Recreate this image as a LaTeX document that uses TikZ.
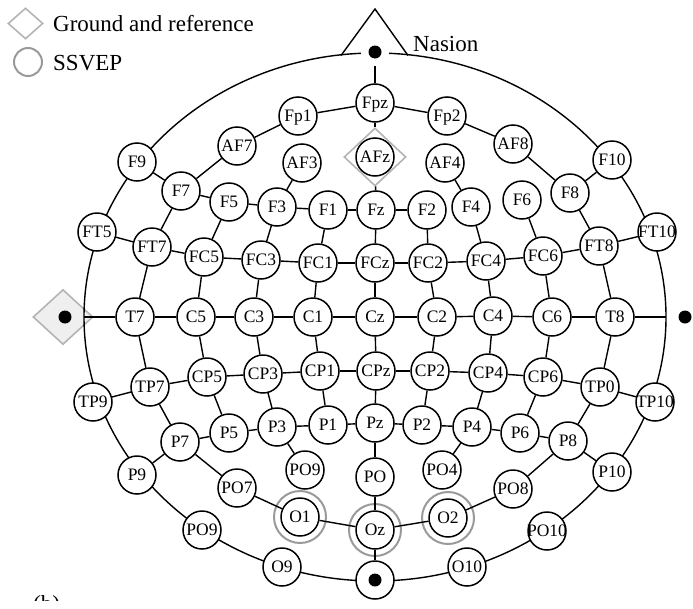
\documentclass[tikz,border=0pt]{standalone}
\usepackage{fontspec}
\setmainfont{Liberation Serif}
\usetikzlibrary{shapes.geometric}
\newcommand{\elab}[1]{\makebox[0pt]{#1}}
\definecolor{ringgray}{HTML}{9A9A9A}
\definecolor{diagray}{HTML}{B4B4B4}
\definecolor{diafill}{HTML}{EFEFEF}
\begin{document}
\begin{tikzpicture}[x=1pt,y=-1pt,
  el/.style={circle,draw,line width=1.5pt,fill=white,minimum size=38pt,inner sep=0pt,
    font=\fontsize{17.5}{18}\selectfont,text height=11.6pt,text depth=0pt},
  wire/.style={line width=1.4pt},
  gdiam/.style={diamond,draw=diagray,line width=1.6pt,inner sep=0pt},
  ssvep/.style={draw=ringgray,line width=2pt},
  legend/.style={font=\fontsize{23}{24}\selectfont,anchor=base west,inner sep=0pt}]
\useasboundingbox (0,0) rectangle (693,608);

% legend
\node[gdiam,minimum width=35pt,minimum height=31pt] (legd) at (25.5,23.5) {};
\node[legend] (legt1) at (53,31) {Ground and reference};
\node[circle,ssvep,minimum size=28pt,inner sep=0pt] (legc) at (28,62) {};
\node[legend] (legt2) at (53,70) {SSVEP};

% reference electrode on the left ear
\node[diamond,draw=diagray,fill=diafill,line width=1.6pt,inner sep=0pt,
  minimum width=60pt,minimum height=55pt] (Ref) at (63,317) {};
\fill (65,317) circle (6.5pt);

% head outline and nose
\draw[wire] (375,317) ellipse [x radius=291pt,y radius=264pt];
\draw[wire,line join=miter] (341,55.5) -- (375,9) -- (408,55.5);
\node[legend] (nasion) at (413,51) {Nasion};
\node[circle,fill=white,minimum size=28pt,inner sep=0pt] (Nz) at (375,52) {};
\fill (Nz.center) circle (6.5pt);
\coordinate (Lear) at (84,317);
\coordinate (Rear) at (666,317);
\fill (685,317) circle (6.5pt);

% SSVEP rings and ground diamond
\draw[ssvep] (300,517) circle (26pt);
\draw[ssvep] (375,530) circle (26pt);
\draw[ssvep] (448,518) circle (26pt);
\node[gdiam,minimum width=62pt,minimum height=58pt] (AFzd) at (375,157) {};

% electrodes
\node[el] (Fpz) at (375,103) {\elab{Fpz}};
\node[el] (Fp1) at (298,116) {\elab{Fp1}};
\node[el] (Fp2) at (447,116) {\elab{Fp2}};
\node[el] (AF7) at (237,146) {\elab{AF7}};
\node[el] (AF8) at (513,144) {\elab{AF8}};
\node[el] (AF3) at (302,163) {\elab{AF3}};
\node[el] (AFz) at (375,157) {\elab{AFz}};
\node[el] (AF4) at (445,163) {\elab{AF4}};
\node[el] (F9) at (137,162) {\elab{F9}};
\node[el] (F10) at (612,160) {\elab{F10}};
\node[el] (F7) at (181,191) {\elab{F7}};
\node[el] (F5) at (229,202) {\elab{F5}};
\node[el] (F3) at (277,207) {\elab{F3}};
\node[el] (F1) at (328,210) {\elab{F1}};
\node[el] (Fz) at (376,210) {\elab{Fz}};
\node[el] (F2) at (427,210) {\elab{F2}};
\node[el] (F4) at (471,207) {\elab{F4}};
\node[el] (F6) at (522,200) {\elab{F6}};
\node[el] (F8) at (570,193) {\elab{F8}};
\node[el] (FT9) at (97,232) {\elab{FT5}};
\node[el] (FT7) at (152,247) {\elab{FT7}};
\node[el] (FC5) at (204,257) {\elab{FC5}};
\node[el] (FC3) at (261,260) {\elab{FC3}};
\node[el] (FC1) at (318,263) {\elab{FC1}};
\node[el] (FCz) at (375,263) {\elab{FCz}};
\node[el] (FC2) at (428,263) {\elab{FC2}};
\node[el] (FC4) at (486,261) {\elab{FC4}};
\node[el] (FC6) at (543,256) {\elab{FC6}};
\node[el] (FT8) at (599,246) {\elab{FT8}};
\node[el] (FT10) at (657,232) {\elab{FT10}};
\node[el] (T7) at (135,317) {\elab{T7}};
\node[el] (C5) at (196,317) {\elab{C5}};
\node[el] (C3) at (254,317) {\elab{C3}};
\node[el] (C1) at (313,317) {\elab{C1}};
\node[el] (Cz) at (375,317) {\elab{Cz}};
\node[el] (C2) at (437,317) {\elab{C2}};
\node[el] (C4) at (493,316) {\elab{C4}};
\node[el] (C6) at (552,317) {\elab{C6}};
\node[el] (T8) at (615,317) {\elab{T8}};
\node[el] (TP9) at (93,402) {\elab{TP9}};
\node[el] (TP7) at (150,387) {\elab{TP7}};
\node[el] (CP5) at (207,377) {\elab{CP5}};
\node[el] (CP3) at (263,374) {\elab{CP3}};
\node[el] (CP1) at (320,371) {\elab{CP1}};
\node[el] (CPz) at (376,371) {\elab{CPz}};
\node[el] (CP2) at (430,371) {\elab{CP2}};
\node[el] (CP4) at (488,373) {\elab{CP4}};
\node[el] (CP6) at (543,377) {\elab{CP6}};
\node[el] (TP8) at (600,387) {\elab{TP0}};
\node[el] (TP10) at (655,402) {\elab{TP10}};
\node[el] (P9) at (137,475) {\elab{P9}};
\node[el] (P7) at (180,442) {\elab{P7}};
\node[el] (P5) at (229,433) {\elab{P5}};
\node[el] (P3) at (277,427) {\elab{P3}};
\node[el] (P1) at (328,425) {\elab{P1}};
\node[el] (Pz) at (375,423) {\elab{Pz}};
\node[el] (P2) at (422,425) {\elab{P2}};
\node[el] (P4) at (472,427) {\elab{P4}};
\node[el] (P6) at (520,433) {\elab{P6}};
\node[el] (P8) at (568,441) {\elab{P8}};
\node[el] (P10) at (612,472) {\elab{P10}};
\node[el] (PO3) at (305,470) {\elab{PO9}};
\node[el] (POz) at (375,477) {\elab{PO}};
\node[el] (PO4) at (442,470) {\elab{PO4}};
\node[el] (PO7) at (237,488) {\elab{PO7}};
\node[el] (PO8) at (513,489) {\elab{PO8}};
\node[el] (O1) at (300,517) {\elab{O1}};
\node[el] (Oz) at (375,530) {\elab{Oz}};
\node[el] (O2) at (448,518) {\elab{O2}};
\node[el] (PO9) at (202,530) {\elab{PO9}};
\node[el] (PO10) at (547,531) {\elab{PO10}};
\node[el] (O9) at (282,567) {\elab{O9}};
\node[el] (O10) at (467,567) {\elab{O10}};
\node[el] (Iz) at (375,580) {};
\fill (Iz.center) circle (6.5pt);

% connectors
\foreach \a/\b in {
  Nz/Fpz, Fpz/AFzd, AFzd/Fz, Fz/FCz, FCz/Cz, Cz/CPz, CPz/Pz, Pz/POz, POz/Oz, Oz/Iz,
  Fpz/Fp1, Fp1/AF7, AF7/F7, F7/FT7, FT7/T7, T7/TP7, TP7/P7, P7/PO7, PO7/O1, O1/Oz,
  Fpz/Fp2, Fp2/AF8, AF8/F8, F8/FT8, FT8/T8, T8/TP8, TP8/P8, P8/PO8, PO8/O2, O2/Oz,
  F9/F7, FT9/FT7, TP9/TP7, P9/P7, F10/F8, FT10/FT8, TP10/TP8, P10/P8,
  T7/Lear, T8/Rear,
  F7/F5, F5/F3, F3/F1, F1/Fz, Fz/F2,
  FT7/FC5, FC5/FC3, FC3/FC1, FC1/FCz, FCz/FC2, FC2/FC4, FC4/FC6, FC6/FT8,
  T7/C5, C5/C3, C3/C1, C1/Cz, Cz/C2, C2/C4, C4/C6, C6/T8,
  TP7/CP5, CP5/CP3, CP3/CP1, CP1/CPz, CPz/CP2, CP2/CP4, CP4/CP6, CP6/TP8,
  P7/P5, P5/P3, P3/P1, P1/Pz, Pz/P2, P2/P4, P4/P6, P6/P8,
  AF3/F3, AF4/F4,
  F5/FC5, F3/FC3, F1/FC1, F2/FC2, F4/FC4, F6/FC6,
  FC5/C5, FC3/C3, FC1/C1, FC2/C2, FC4/C4, FC6/C6,
  C5/CP5, C3/CP3, C1/CP1, C2/CP2, C4/CP4, C6/CP6,
  CP5/P5, CP3/P3, CP1/P1, CP2/P2, CP4/P4, CP6/P6,
  P3/PO3, P4/PO4}
  \draw[wire] (\a) -- (\b);

% panel tag, only its top shows above the lower edge of the figure
\begin{scope}
  \clip (0,560) rectangle (120,600);
  \node[legend] (tag) at (33,611) {(b)};
\end{scope}
\end{tikzpicture}
\end{document}
